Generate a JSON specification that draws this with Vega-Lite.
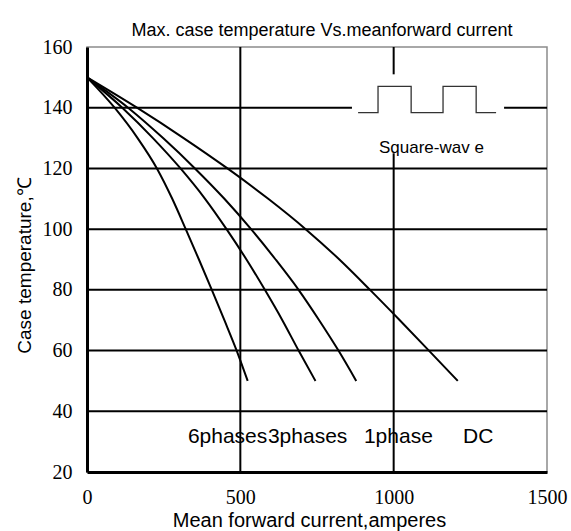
{
  "$schema": "https://vega.github.io/schema/vega-lite/v6.json",
  "width": 460,
  "height": 425,
  "autosize": {"type": "none"},
  "padding": {"left": 87, "top": 47, "right": 24, "bottom": 59},
  "background": "white",
  "config": {"view": {"stroke": "#8c8c8c", "strokeWidth": 1.5}, "font": "Liberation Sans"},
  "title": {"text": "Max. case temperature Vs.meanforward current", "font": "Liberation Sans", "fontSize": 18, "fontWeight": "normal", "color": "black", "anchor": "middle", "frame": "group", "baseline": "alphabetic", "offset": 11, "dx": 5, "dy": 28},
  "encoding": {
    "x": {"field": "x", "type": "quantitative", "scale": {"domain": [0, 1500], "nice": false, "zero": false},
      "axis": {"values": [0, 500, 1000, 1500], "format": "d", "grid": false, "ticks": false, "zindex": 1, "domainColor": "black", "domainWidth": 3, "labelFont": "Liberation Serif", "labelFontSize": 20, "labelColor": "black", "labelBaseline": "alphabetic", "labelPadding": 31, "labelFlush": false, "labelOverlap": false, "title": "Mean  forward current,amperes", "titleFont": "Liberation Sans", "titleFontSize": 20, "titleFontWeight": "normal", "titleColor": "black", "titleBaseline": "alphabetic", "titleY": 54, "titleX": 222, "titleAlign": "center"}},
    "y": {"field": "y", "type": "quantitative", "scale": {"domain": [20, 160], "nice": false, "zero": false},
      "axis": {"values": [20, 40, 60, 80, 100, 120, 140, 160], "format": "d", "grid": false, "ticks": false, "zindex": 1, "domainColor": "black", "domainWidth": 3, "labelFont": "Liberation Serif", "labelFontSize": 20, "labelColor": "black", "labelBaseline": "middle", "labelPadding": 15, "labelFlush": false, "labelOverlap": false, "title": "Case temperature,℃", "titleFont": "Liberation Sans", "titleFontSize": 19, "titleFontWeight": "normal", "titleColor": "black", "titleBaseline": "alphabetic", "titleAngle": -90, "titleX": -57, "titleY": 218, "titleAlign": "center"}}
  },
  "layer": [
    {
      "data": {"values": [
        {"x": 0, "x2": 1500, "y": 40, "y2": 40},
        {"x": 0, "x2": 1500, "y": 60, "y2": 60},
        {"x": 0, "x2": 1500, "y": 80, "y2": 80},
        {"x": 0, "x2": 1500, "y": 100, "y2": 100},
        {"x": 0, "x2": 1500, "y": 120, "y2": 120},
        {"x": 0, "x2": 864, "y": 140, "y2": 140},
        {"x": 1360, "x2": 1500, "y": 140, "y2": 140},
        {"x": 500, "x2": 500, "y": 20, "y2": 160},
        {"x": 1000, "x2": 1000, "y": 20, "y2": 125},
        {"x": 1000, "x2": 1000, "y": 151, "y2": 160}
      ]},
      "mark": {"type": "rule", "color": "black", "strokeWidth": 2},
      "encoding": {"x2": {"field": "x2"}, "y2": {"field": "y2"}}
    },
    {
      "data": {"values": [
        {"o": 1, "x": 884, "y": 138.4},
        {"o": 2, "x": 949, "y": 138.4},
        {"o": 3, "x": 949, "y": 147},
        {"o": 4, "x": 1057, "y": 147},
        {"o": 5, "x": 1057, "y": 138.4},
        {"o": 6, "x": 1161, "y": 138.4},
        {"o": 7, "x": 1161, "y": 147},
        {"o": 8, "x": 1269, "y": 147},
        {"o": 9, "x": 1269, "y": 138.4},
        {"o": 10, "x": 1334, "y": 138.4}
      ]},
      "mark": {"type": "line", "color": "#333333", "strokeWidth": 1.3},
      "encoding": {"order": {"field": "o", "type": "quantitative"}}
    },
    {
      "data": {"values": [
        {"series": "6phases", "x": 0, "y": 150}, {"series": "6phases", "x": 90, "y": 140}, {"series": "6phases", "x": 165, "y": 130}, {"series": "6phases", "x": 228, "y": 120}, {"series": "6phases", "x": 278, "y": 110}, {"series": "6phases", "x": 322, "y": 100}, {"series": "6phases", "x": 365, "y": 90}, {"series": "6phases", "x": 407, "y": 80}, {"series": "6phases", "x": 448, "y": 70}, {"series": "6phases", "x": 488, "y": 60}, {"series": "6phases", "x": 524, "y": 50},
        {"series": "3phases", "x": 0, "y": 150}, {"series": "3phases", "x": 115, "y": 140}, {"series": "3phases", "x": 215, "y": 130}, {"series": "3phases", "x": 305, "y": 120}, {"series": "3phases", "x": 385, "y": 110}, {"series": "3phases", "x": 455, "y": 100}, {"series": "3phases", "x": 520, "y": 90}, {"series": "3phases", "x": 580, "y": 80}, {"series": "3phases", "x": 637, "y": 70}, {"series": "3phases", "x": 690, "y": 60}, {"series": "3phases", "x": 745, "y": 50},
        {"series": "1phase", "x": 0, "y": 150}, {"series": "1phase", "x": 134, "y": 140}, {"series": "1phase", "x": 248, "y": 130}, {"series": "1phase", "x": 352, "y": 120}, {"series": "1phase", "x": 448, "y": 110}, {"series": "1phase", "x": 535, "y": 100}, {"series": "1phase", "x": 615, "y": 90}, {"series": "1phase", "x": 690, "y": 80}, {"series": "1phase", "x": 757, "y": 70}, {"series": "1phase", "x": 820, "y": 60}, {"series": "1phase", "x": 878, "y": 50},
        {"series": "DC", "x": 0, "y": 150}, {"series": "DC", "x": 163, "y": 140}, {"series": "DC", "x": 315, "y": 130}, {"series": "DC", "x": 458, "y": 120}, {"series": "DC", "x": 591, "y": 110}, {"series": "DC", "x": 713, "y": 100}, {"series": "DC", "x": 823, "y": 90}, {"series": "DC", "x": 923, "y": 80}, {"series": "DC", "x": 1020, "y": 70}, {"series": "DC", "x": 1115, "y": 60}, {"series": "DC", "x": 1209, "y": 50}
      ]},
      "mark": {"type": "line", "color": "black", "strokeWidth": 2, "interpolate": "monotone"},
      "encoding": {"detail": {"field": "series", "type": "nominal"}}
    },
    {
      "data": {"values": [
        {"label": "6phases", "x": 329, "y": 29.5},
        {"label": "3phases", "x": 590, "y": 29.5},
        {"label": "1phase", "x": 903, "y": 29.5},
        {"label": "DC", "x": 1226, "y": 29.5}
      ]},
      "mark": {"type": "text", "align": "left", "baseline": "alphabetic", "font": "Liberation Sans", "fontSize": 21, "color": "black"},
      "encoding": {"text": {"field": "label"}}
    },
    {
      "data": {"values": [{"label": "Square-wav e", "x": 952, "y": 125.2}]},
      "mark": {"type": "text", "align": "left", "baseline": "alphabetic", "font": "Liberation Sans", "fontSize": 17, "color": "black"},
      "encoding": {"text": {"field": "label"}}
    }
  ]
}
